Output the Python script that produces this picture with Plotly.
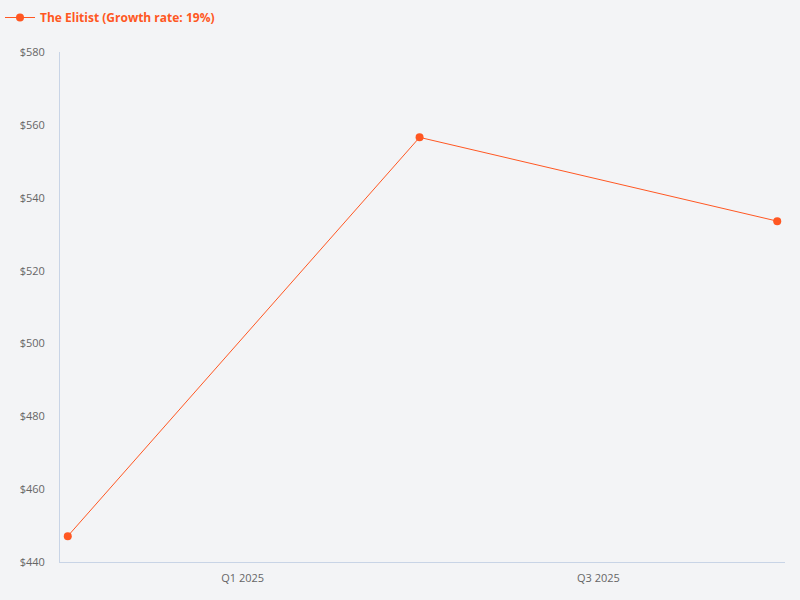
import plotly.graph_objects as go

# quarterly points
dates = ["2025-01-01", "2025-07-01", "2026-01-01"]
prices = [447.1, 556.6, 533.6]
series_name = "The Elitist (Growth rate: 19%)"

x_tick_dates = ["2025-04-01", "2025-10-01"]
x_tick_labels = ["Q1 2025", "Q3 2025"]
y_ticks = [440, 460, 480, 500, 520, 540, 560, 580]

orange = "#ff5722"

fig = go.Figure()
fig.add_trace(go.Scatter(
    x=dates, y=prices, name=series_name,
    mode="lines+markers",
    line=dict(color=orange, width=1),
    marker=dict(color=orange, size=8),
    showlegend=True,
))

fig.update_layout(
    width=800, height=600,
    paper_bgcolor="#f3f4f6", plot_bgcolor="#f3f4f6",
    margin=dict(l=60, r=15, t=50, b=38),
    font=dict(family="Open Sans", size=11, color="#666666"),
    legend=dict(orientation="h", x=-0.094, y=0.995, xanchor="left", yanchor="top",
                yref="container", xref="paper",
                font=dict(size=12, color=orange, family="Open Sans", weight="bold"),
                itemwidth=30),
    xaxis=dict(
        type="date",
        range=["2024-12-28", "2026-01-05"],
        tickvals=x_tick_dates, ticktext=x_tick_labels,
        showgrid=False, zeroline=False,
        showline=True, linecolor="#c8d4e6", linewidth=1,
        ticks="", ticklabelstandoff=6,
    ),
    yaxis=dict(
        range=[440, 580], tickvals=y_ticks,
        ticktext=[f"${v}" for v in y_ticks],
        showgrid=False, zeroline=False,
        showline=True, linecolor="#c8d4e6", linewidth=1,
        ticks="", ticklabelstandoff=12,
    ),
)

fig.write_html("out.html", config={"displayModeBar": False},
               post_script="document.body.style.margin='0';")
